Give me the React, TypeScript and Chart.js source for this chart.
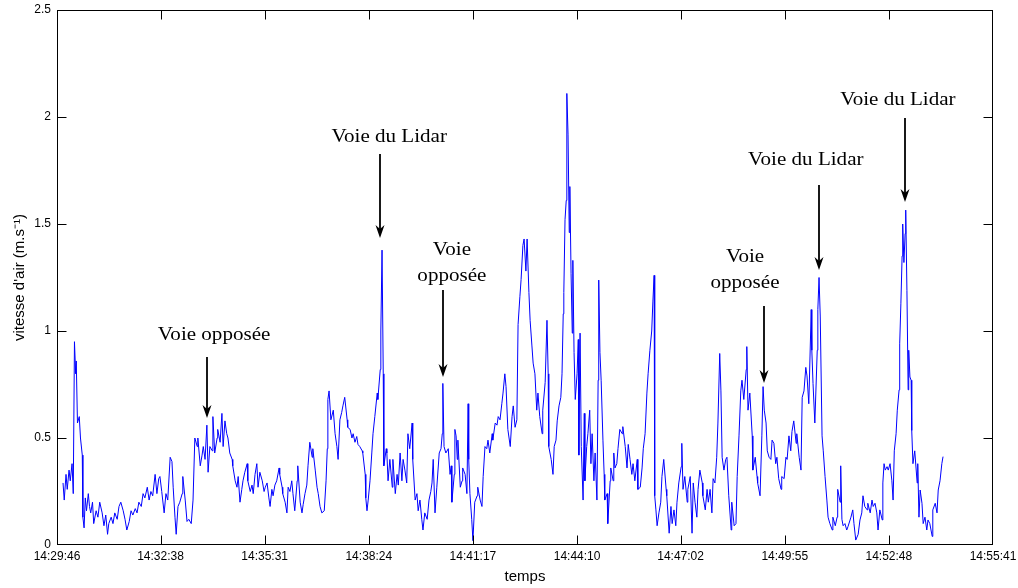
import React, { useEffect, useRef } from "react";
import { Chart, registerables } from "chart.js";

Chart.register(...registerables);

// [seconds since 14:29:46, air speed m/s]
const segmentA: [number, number][] = [
  [10, 0.29], [12, 0.21], [15, 0.33], [17, 0.26], [20, 0.35], [22, 0.3], [25, 0.38], [27, 0.24],
  [29, 0.95], [31, 0.8], [32, 0.86], [34, 0.57], [37, 0.6], [39, 0.5], [42, 0.42], [43, 0.13],
  [45, 0.08], [47, 0.22], [49, 0.16], [52, 0.24], [54, 0.18], [56, 0.15], [59, 0.2], [61, 0.1],
  [65, 0.16], [68, 0.13], [71, 0.2], [75, 0.15], [78, 0.09], [81, 0.14], [84, 0.05], [86, 0.1],
  [90, 0.13], [93, 0.1], [96, 0.15], [100, 0.12], [103, 0.18], [106, 0.2], [110, 0.16], [113, 0.12],
  [116, 0.07], [120, 0.11], [123, 0.16], [126, 0.14], [130, 0.17], [133, 0.15], [136, 0.2], [140, 0.18],
  [143, 0.24], [146, 0.22], [150, 0.27], [153, 0.21], [156, 0.25], [159, 0.23], [163, 0.33], [166, 0.24],
  [169, 0.31],
];
const segmentB: [number, number][] = [
  [171, 0.32], [174, 0.25], [178, 0.15], [181, 0.24], [184, 0.21], [188, 0.41], [191, 0.39], [193, 0.27],
  [196, 0.13], [198, 0.05], [201, 0.18], [204, 0.2], [208, 0.24], [209, 0.32], [213, 0.21], [216, 0.11],
  [219, 0.12], [223, 0.1], [226, 0.21], [229, 0.5], [233, 0.46], [234, 0.5], [238, 0.37], [241, 0.42],
  [243, 0.46], [246, 0.4], [249, 0.56], [251, 0.34], [254, 0.46], [258, 0.44], [259, 0.6], [262, 0.43],
  [266, 0.5], [267, 0.54], [271, 0.48], [274, 0.615], [276, 0.46], [279, 0.58], [282, 0.52], [284, 0.5],
  [287, 0.43], [291, 0.4], [292, 0.37], [296, 0.3], [299, 0.27], [301, 0.32], [304, 0.2], [307, 0.26],
  [309, 0.3], [312, 0.34], [316, 0.38], [317, 0.3], [321, 0.25], [324, 0.28], [326, 0.24], [329, 0.33],
  [332, 0.38], [334, 0.27], [337, 0.34],
];
const segmentC: [number, number][] = [
  [341, 0.3], [344, 0.25], [346, 0.27], [349, 0.29], [352, 0.22], [354, 0.18], [357, 0.26], [359, 0.23],
  [362, 0.28], [365, 0.3], [369, 0.36], [370, 0.33], [374, 0.27], [375, 0.24], [379, 0.2], [382, 0.15],
  [384, 0.27], [387, 0.25], [390, 0.3], [392, 0.24], [395, 0.16], [399, 0.3], [400, 0.37], [404, 0.2],
  [407, 0.15], [409, 0.19], [412, 0.24], [415, 0.28], [417, 0.37], [420, 0.48], [424, 0.41], [425, 0.45],
  [429, 0.35], [432, 0.27], [434, 0.24], [437, 0.18], [440, 0.15], [444, 0.16], [447, 0.3], [449, 0.45],
  [450, 0.68], [452, 0.72], [455, 0.585], [459, 0.63], [462, 0.52], [465, 0.46], [467, 0.4], [470, 0.585],
  [473, 0.62], [475, 0.65], [478, 0.69], [482, 0.585], [483, 0.55],
];
const segmentD: [number, number][] = [
  [487, 0.54], [490, 0.5], [492, 0.52], [495, 0.48], [498, 0.507], [500, 0.47], [503, 0.46], [507, 0.44],
  [508, 0.43], [512, 0.33], [513, 0.22], [515, 0.16], [517, 0.21], [520, 0.3], [523, 0.43], [525, 0.52],
  [528, 0.6], [532, 0.71], [533, 0.68], [537, 0.82], [538, 1.0], [540, 1.378], [542, 0.8], [543, 0.37],
  [547, 0.45], [548, 0.43], [550, 0.3], [553, 0.4], [557, 0.27], [558, 0.4], [562, 0.24], [565, 0.33],
  [567, 0.28], [570, 0.43], [573, 0.3], [575, 0.4], [578, 0.35], [581, 0.29], [583, 0.52], [586, 0.45],
  [590, 0.57], [591, 0.4], [595, 0.21], [598, 0.24], [600, 0.16], [603, 0.21], [606, 0.12], [608, 0.07],
  [611, 0.15], [615, 0.12], [618, 0.21], [621, 0.25], [623, 0.29], [625, 0.4], [628, 0.15], [631, 0.27],
  [635, 0.43], [638, 0.45], [640, 0.52], [641, 0.755], [643, 0.46], [646, 0.43], [650, 0.45], [653, 0.33],
  [655, 0.37], [656, 0.2], [660, 0.33], [661, 0.54], [663, 0.51], [665, 0.4], [666, 0.49],
];
const segmentE: [number, number][] = [
  [670, 0.27], [673, 0.3], [674, 0.36], [678, 0.33], [681, 0.24], [683, 0.66], [684, 0.4], [686, 0.24],
  [689, 0.12], [691, 0.02], [694, 0.2], [698, 0.23], [699, 0.27], [703, 0.21], [706, 0.18], [708, 0.32],
  [711, 0.46], [714, 0.45], [716, 0.49], [719, 0.43], [723, 0.52], [724, 0.49], [728, 0.57], [731, 0.56],
  [733, 0.6], [736, 0.585], [739, 0.66], [741, 0.71], [744, 0.8], [746, 0.74], [749, 0.54], [753, 0.46],
  [756, 0.6], [758, 0.65], [761, 0.55], [764, 0.585], [766, 1.03], [769, 1.16], [771, 1.24], [774, 1.4],
  [776, 1.43], [779, 1.28], [781, 1.43], [784, 1.18], [786, 1.05], [789, 0.93], [791, 0.85], [794, 0.8],
  [797, 0.63], [799, 0.71], [802, 0.6], [806, 0.52], [807, 0.63], [811, 0.76], [814, 1.05], [816, 0.8],
  [817, 0.46], [821, 0.4], [824, 0.33], [826, 0.46], [829, 0.49], [831, 0.58],
];
const segmentF: [number, number][] = [
  [834, 0.65], [837, 0.69], [839, 0.8], [841, 1.08], [842, 1.18], [844, 1.52], [846, 1.61], [847, 2.11],
  [849, 1.92], [851, 1.46], [852, 1.675], [854, 1.27], [856, 0.99], [857, 1.33], [859, 0.9], [861, 0.68],
  [864, 0.8], [866, 0.96], [867, 0.42], [869, 0.99], [871, 0.46], [874, 0.21], [876, 0.615], [877, 0.3],
  [880, 0.46], [882, 0.52], [885, 0.63], [887, 0.38], [889, 0.52], [892, 0.3], [894, 0.43], [897, 0.21],
  [899, 0.77], [900, 1.238], [902, 0.9], [904, 0.77], [907, 0.49], [909, 0.33], [910, 0.21], [914, 0.24],
  [915, 0.1], [919, 0.3], [920, 0.36], [924, 0.3], [925, 0.43], [927, 0.36], [930, 0.38], [932, 0.45],
  [935, 0.54], [939, 0.52], [940, 0.553], [944, 0.46], [947, 0.36], [949, 0.47], [952, 0.4], [955, 0.33],
  [957, 0.38], [960, 0.3], [964, 0.4], [965, 0.26], [969, 0.27], [972, 0.36], [974, 0.45], [977, 0.52],
  [980, 0.71], [982, 0.8], [985, 0.91], [988, 1.0], [990, 1.14], [992, 1.26], [993, 0.23],
];
const segmentG: [number, number][] = [
  [995, 0.164], [997, 0.09], [1000, 0.15], [1003, 0.2], [1005, 0.32], [1008, 0.4], [1012, 0.26], [1013, 0.23],
  [1017, 0.055], [1020, 0.18], [1022, 0.1], [1025, 0.164], [1028, 0.09], [1030, 0.2], [1033, 0.29], [1037, 0.366],
  [1038, 0.475], [1040, 0.26], [1043, 0.32], [1047, 0.2], [1048, 0.26], [1052, 0.32], [1055, 0.055], [1057, 0.29],
  [1060, 0.2], [1063, 0.13], [1065, 0.26], [1068, 0.35], [1072, 0.29], [1073, 0.23], [1077, 0.164], [1080, 0.26],
  [1082, 0.2], [1085, 0.26], [1088, 0.15], [1090, 0.31], [1093, 0.29], [1096, 0.41], [1098, 0.57], [1101, 0.895],
  [1103, 0.72], [1105, 0.41], [1108, 0.35], [1111, 0.4], [1113, 0.41], [1116, 0.23], [1120, 0.07], [1121, 0.2],
  [1125, 0.09], [1128, 0.1], [1130, 0.32], [1133, 0.51], [1136, 0.72], [1138, 0.77], [1141, 0.68], [1145, 0.82],
  [1146, 0.927], [1148, 0.63],
];
const segmentH: [number, number][] = [
  [1151, 0.71], [1155, 0.51], [1156, 0.35], [1160, 0.41], [1163, 0.32], [1164, 0.29], [1168, 0.23], [1171, 0.51],
  [1173, 0.74], [1175, 0.63], [1178, 0.57], [1180, 0.44], [1183, 0.41], [1186, 0.4], [1188, 0.49], [1191, 0.475],
  [1194, 0.38], [1196, 0.41], [1199, 0.31], [1203, 0.26], [1204, 0.32], [1208, 0.31], [1211, 0.41], [1213, 0.4],
  [1216, 0.51], [1219, 0.44], [1221, 0.53], [1224, 0.58], [1228, 0.475], [1229, 0.52], [1233, 0.41], [1236, 0.35],
  [1238, 0.69], [1241, 0.72], [1244, 0.83], [1246, 0.79], [1249, 0.66], [1253, 1.1], [1254, 0.91], [1256, 0.755],
  [1259, 0.57], [1263, 0.91], [1264, 1.1], [1266, 1.25], [1268, 1.07], [1271, 0.51], [1273, 0.44], [1276, 0.32],
  [1279, 0.21], [1281, 0.13], [1284, 0.1], [1288, 0.07], [1289, 0.13], [1293, 0.09], [1296, 0.13], [1297, 0.26],
  [1301, 0.2], [1302, 0.37], [1304, 0.12], [1306, 0.09], [1309, 0.1], [1312, 0.07], [1314, 0.085],
];
const segmentI: [number, number][] = [
  [1319, 0.13], [1322, 0.164], [1324, 0.1], [1327, 0.023], [1331, 0.05], [1334, 0.117], [1337, 0.15], [1339, 0.23],
  [1342, 0.18], [1346, 0.164], [1347, 0.195], [1351, 0.15], [1354, 0.21], [1356, 0.18], [1359, 0.195], [1362, 0.15],
  [1364, 0.07], [1367, 0.164], [1371, 0.117], [1372, 0.29], [1374, 0.38], [1376, 0.35], [1379, 0.366], [1381, 0.35],
  [1384, 0.38], [1387, 0.3], [1389, 0.21], [1391, 0.44], [1394, 0.52], [1396, 0.63], [1399, 0.725], [1400, 0.94],
  [1402, 1.13], [1404, 1.35], [1405, 1.5], [1407, 1.32], [1409, 1.455], [1410, 1.565], [1412, 1.19], [1414, 0.725],
  [1415, 0.91], [1417, 0.785], [1419, 0.77], [1420, 0.535], [1422, 0.38], [1425, 0.44], [1429, 0.29], [1430, 0.38],
  [1432, 0.13], [1434, 0.257], [1437, 0.195], [1439, 0.1], [1442, 0.13], [1445, 0.07], [1447, 0.117], [1450, 0.1],
  [1454, 0.04], [1455, 0.164], [1459, 0.195], [1462, 0.15], [1464, 0.257], [1467, 0.3], [1470, 0.38], [1472, 0.413],
];

const xTickLabels = [
  "14:29:46", "14:32:38", "14:35:31", "14:38:24", "14:41:17",
  "14:44:10", "14:47:02", "14:49:55", "14:52:48", "14:55:41",
];
const yTickValues = [0, 0.5, 1, 1.5, 2, 2.5];

// annotations (time in seconds, values in m/s)
const annTexts = [
  ["Voie opposée"], ["Voie du Lidar"], ["Voie", "opposée"],
  ["Voie", "opposée"], ["Voie du Lidar"], ["Voie du Lidar"],
];
const annTextT = [261, 552, 656, 1143, 1244, 1397];
const annTextV = [0.958, 1.883, 1.355, 1.322, 1.776, 2.056];
const annArrowT = [249, 537, 641, 1175, 1266, 1409];
const annArrowTop = [0.879, 1.827, 1.192, 1.117, 1.682, 1.995];
const annArrowTip = [0.593, 1.435, 0.785, 0.757, 1.285, 1.603];

const toSec = (s: string) => {
  const [h, m, sec] = s.split(":").map(Number);
  return h * 3600 + m * 60 + sec;
};
const xTickSeconds = xTickLabels.map((l) => toSec(l) - toSec(xTickLabels[0]));

const framePlugin = {
  id: "matlabFrame",
  afterDatasetsDraw(chart: any) {
    const { ctx, chartArea, scales } = chart;
    const { left, right, top, bottom } = chartArea;
    const L = Math.round(left) + 0.5;
    const R = Math.round(right) - 0.5;
    const T = Math.round(top) + 0.5;
    const B = Math.round(bottom) - 0.5;
    ctx.save();
    ctx.strokeStyle = "#000";
    ctx.lineWidth = 1;
    ctx.strokeRect(L, T, R - L, B - T);
    const tl = 9;
    ctx.beginPath();
    xTickSeconds.forEach((v) => {
      let px = Math.round(scales.x.getPixelForValue(v)) + 0.5;
      px = Math.min(Math.max(px, L), R);
      ctx.moveTo(px, B);
      ctx.lineTo(px, B - tl);
      ctx.moveTo(px, T);
      ctx.lineTo(px, T + tl);
    });
    yTickValues.forEach((v) => {
      let py = Math.round(scales.y.getPixelForValue(v)) + 0.5;
      py = Math.min(Math.max(py, T), B);
      ctx.moveTo(L, py);
      ctx.lineTo(L + tl, py);
      ctx.moveTo(R, py);
      ctx.lineTo(R - tl, py);
    });
    ctx.stroke();

    // annotations
    ctx.fillStyle = "#000";
    ctx.font = '18px "Liberation Serif", "Times New Roman", serif';
    ctx.textAlign = "center";
    ctx.textBaseline = "alphabetic";
    annTexts.forEach((lines, i) => {
      const cx = scales.x.getPixelForValue(annTextT[i]);
      const by = scales.y.getPixelForValue(annTextV[i]);
      lines.forEach((line, j) => {
        ctx.save();
        ctx.translate(cx, by + j * 26);
        ctx.scale(1.17, 1);
        ctx.fillText(line, 0, 0);
        ctx.restore();
      });
      const ax = Math.round(scales.x.getPixelForValue(annArrowT[i]));
      const y0 = scales.y.getPixelForValue(annArrowTop[i]);
      const y1 = scales.y.getPixelForValue(annArrowTip[i]);
      ctx.beginPath();
      ctx.lineWidth = 1.8;
      ctx.moveTo(ax, y0);
      ctx.lineTo(ax, y1 - 8);
      ctx.stroke();
      ctx.beginPath();
      ctx.moveTo(ax, y1);
      ctx.lineTo(ax - 4.5, y1 - 13);
      ctx.lineTo(ax, y1 - 9);
      ctx.lineTo(ax + 4.5, y1 - 13);
      ctx.closePath();
      ctx.fill();
    });
    ctx.restore();
  },
};

export default function App() {
  const canvasRef = useRef<HTMLCanvasElement | null>(null);

  useEffect(() => {
    if (!canvasRef.current) return;
    const points = [
      ...segmentA, ...segmentB, ...segmentC, ...segmentD, ...segmentE,
      ...segmentF, ...segmentG, ...segmentH, ...segmentI,
    ].map(([t, v]) => ({ x: t, y: v }));

    Chart.defaults.font.family = '"Liberation Sans", Arial, sans-serif';

    const chart = new Chart(canvasRef.current, {
      type: "line",
      data: {
        datasets: [
          {
            data: points,
            borderColor: "#0000ff",
            borderWidth: 1,
            pointRadius: 0,
            tension: 0,
            fill: false,
          },
        ],
      },
      options: {
        responsive: false,
        animation: false,
        devicePixelRatio: 1,
        layout: { padding: { left: 0, right: 25, top: 10, bottom: 0 } },
        plugins: { legend: { display: false }, tooltip: { enabled: false } },
        scales: {
          x: {
            type: "linear",
            min: 0,
            max: xTickSeconds[xTickSeconds.length - 1],
            grid: { display: false, drawTicks: false },
            border: { display: false },
            afterBuildTicks: (s: any) => {
              s.ticks = xTickSeconds.map((v) => ({ value: v }));
            },
            afterFit: (s: any) => {
              s.height = 43;
              s.paddingLeft = 0;
              s.paddingRight = 0;
            },
            ticks: {
              autoSkip: false,
              maxRotation: 0,
              padding: 4,
              color: "#000",
              font: { size: 12 },
              callback: (_v: any, i: number) => xTickLabels[i],
            },
            title: {
              display: true,
              text: "temps",
              color: "#000",
              font: { size: 15 },
              padding: { top: 0, bottom: 2 },
            },
          },
          y: {
            type: "linear",
            min: 0,
            max: 2.5,
            grid: { display: false, drawTicks: false },
            border: { display: false },
            afterBuildTicks: (s: any) => {
              s.ticks = yTickValues.map((v) => ({ value: v }));
            },
            afterFit: (s: any) => {
              s.width = 57;
              s.paddingTop = 0;
              s.paddingBottom = 0;
            },
            ticks: {
              padding: 6,
              color: "#000",
              font: { size: 12 },
              callback: (v: any) => String(v),
            },
            title: {
              display: true,
              text: "vitesse d'air (m.s⁻¹)",
              color: "#000",
              font: { size: 15 },
              padding: { top: 11, bottom: 0 },
            },
          },
        },
      },
      plugins: [framePlugin],
    });
    return () => chart.destroy();
  }, []);

  return (
    <div style={{ position: "fixed", left: 0, top: 0, width: 1018, height: 588, background: "#fff" }}>
      <canvas ref={canvasRef} width={1018} height={588} style={{ display: "block" }} />
    </div>
  );
}
